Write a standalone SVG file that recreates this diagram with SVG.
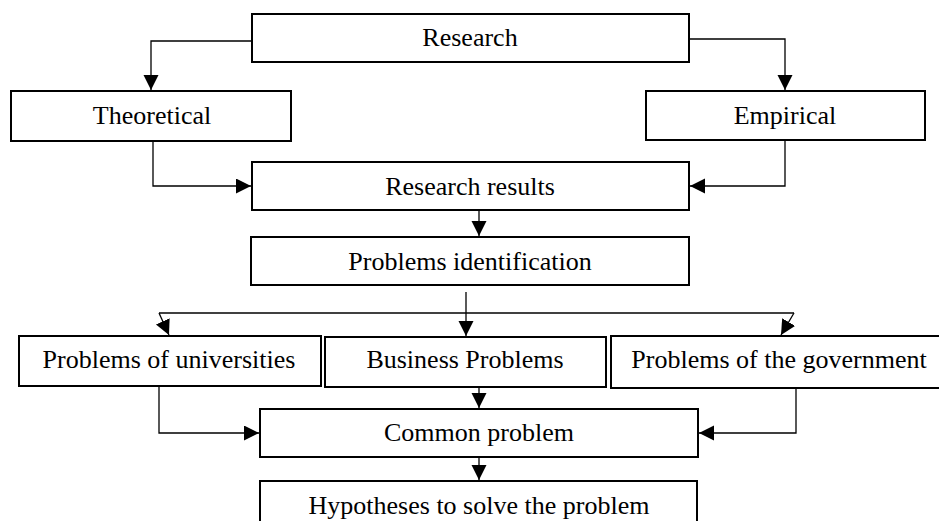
<svg xmlns="http://www.w3.org/2000/svg" width="939" height="521" viewBox="0 0 939 521">
<style>
.box{fill:#fff;stroke:#000;stroke-width:2}
.lbl{font-family:"Liberation Serif","Times New Roman",serif;font-size:26px;fill:#000;text-anchor:middle}
.con{fill:none;stroke:#000;stroke-width:1.3}
</style>
<defs>
<marker id="ah" markerUnits="userSpaceOnUse" markerWidth="16" markerHeight="16" refX="15" refY="7.5" orient="auto">
<path d="M0,0 L15,7.5 L0,15 Z" fill="#000"/>
</marker>
</defs>
<rect width="939" height="521" fill="#fff"/>
<g id="connectors">
<path class="con" d="M252,41 H151 V90" marker-end="url(#ah)"/>
<path class="con" d="M689,39 H785 V90" marker-end="url(#ah)"/>
<path class="con" d="M153,141 V186 H251" marker-end="url(#ah)"/>
<path class="con" d="M785,140 V186 H690" marker-end="url(#ah)"/>
<path class="con" d="M479,211 V236" marker-end="url(#ah)"/>
<path class="con" d="M466,292 V336" marker-end="url(#ah)"/>
<path class="con" d="M159,313 H794"/>
<path class="con" d="M159,313 L169,335" marker-end="url(#ah)"/>
<path class="con" d="M794,313 L781,335" marker-end="url(#ah)"/>
<path class="con" d="M159,386 V433 H259" marker-end="url(#ah)"/>
<path class="con" d="M793,386 H796 V433 H699" marker-end="url(#ah)"/>
<path class="con" d="M479,387 V408" marker-end="url(#ah)"/>
<path class="con" d="M479,457 V480" marker-end="url(#ah)"/>
</g>
<g id="research"><rect class="box" x="252" y="14" width="437" height="48"/><text class="lbl" x="470" y="46">Research</text></g>
<g id="theoretical"><rect class="box" x="11" y="91" width="280" height="50"/><text class="lbl" x="152" y="124">Theoretical</text></g>
<g id="empirical"><rect class="box" x="646" y="91" width="279" height="49"/><text class="lbl" x="785" y="124">Empirical</text></g>
<g id="research-results"><rect class="box" x="252" y="162" width="437" height="48"/><text class="lbl" x="470" y="195">Research results</text></g>
<g id="problems-identification"><rect class="box" x="251" y="237" width="438" height="48"/><text class="lbl" x="470" y="270">Problems identification</text></g>
<g id="problems-universities"><rect class="box" x="19" y="336" width="302" height="50"/><text class="lbl" x="169" y="368">Problems of universities</text></g>
<g id="business-problems"><rect class="box" x="325" y="337" width="281" height="50"/><text class="lbl" x="465" y="368">Business Problems</text></g>
<g id="problems-government"><rect class="box" x="611" y="336" width="340" height="52"/><text class="lbl" x="779" y="368">Problems of the government</text></g>
<g id="common-problem"><rect class="box" x="260" y="409" width="438" height="48"/><text class="lbl" x="479" y="441">Common problem</text></g>
<g id="hypotheses"><rect class="box" x="260" y="481" width="437" height="60"/><text class="lbl" x="479" y="514">Hypotheses to solve the problem</text></g>
</svg>
